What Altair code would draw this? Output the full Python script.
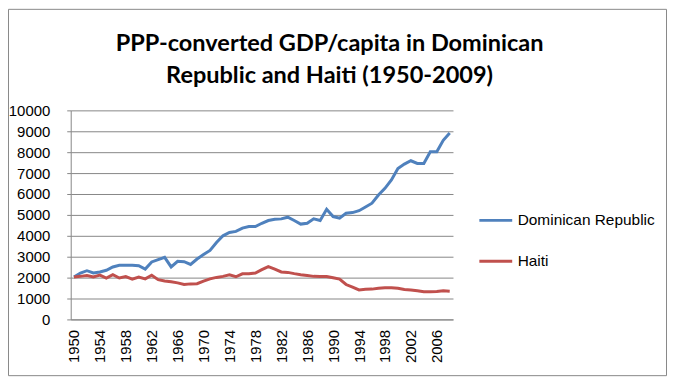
import altair as alt
import pandas as pd

years = list(range(1950, 2009))
dominican = [2030, 2220, 2330, 2220, 2270, 2350, 2510, 2590, 2590, 2590,
             2570, 2410, 2750, 2860, 2970, 2510, 2780, 2760, 2630, 2890,
             3100, 3300, 3680, 4000, 4160, 4210, 4370, 4440, 4440, 4600,
             4730, 4790, 4810, 4890, 4730, 4560, 4600, 4810, 4730, 5270,
             4920, 4840, 5080, 5110, 5200, 5380, 5560, 5950, 6270, 6670,
             7220, 7430, 7590, 7460, 7460, 8020, 8020, 8570, 8920]
haiti = [2030, 2060, 2100, 2030, 2120, 1980, 2140, 1980, 2050, 1930,
         2030, 1940, 2110, 1900, 1840, 1800, 1750, 1670, 1700, 1710,
         1830, 1940, 2010, 2060, 2130, 2040, 2180, 2180, 2220, 2380,
         2530, 2410, 2270, 2250, 2190, 2140, 2100, 2060, 2050, 2050,
         1990, 1930, 1670, 1540, 1410, 1440, 1450, 1490, 1510, 1510,
         1490, 1430, 1410, 1370, 1320, 1320, 1340, 1370, 1350]
series_names = ["Dominican Republic", "Haiti"]
series_colors = ["#4F81BD", "#C0504D"]
x_tick_years = list(range(1950, 2007, 4))
y_ticks = list(range(0, 10001, 1000))
title_lines = ["PPP-converted GDP/capita in Dominican", "Republic and Haiti (1950-2009)"]

df = pd.DataFrame({
    "year": years + years,
    "gdp": dominican + haiti,
    "country": [series_names[0]] * len(years) + [series_names[1]] * len(years),
})

GRID = "#868686"

lines = alt.Chart(df).mark_line(strokeWidth=3).encode(
    x=alt.X("year:Q",
            scale=alt.Scale(domain=[1949.5, 2008.5], nice=False, zero=False),
            axis=alt.Axis(values=x_tick_years, format="d", labelAngle=-90, grid=False,
                          ticks=False, tickSize=0, labelPadding=10, title=None,
                          domainColor=GRID, labelFont="Liberation Sans", labelFontSize=15,
                          labelColor="#000000")),
    y=alt.Y("gdp:Q",
            scale=alt.Scale(domain=[0, 10000], nice=False),
            axis=alt.Axis(values=y_ticks, format="d", title=None, grid=True, gridColor=GRID,
                          gridOpacity=1, tickColor=GRID, tickSize=4, labelPadding=17,
                          domainColor=GRID, labelFont="Liberation Sans", labelFontSize=15,
                          labelColor="#000000")),
    color=alt.Color("country:N",
                    scale=alt.Scale(domain=series_names, range=series_colors),
                    legend=alt.Legend(title=None, orient="none", legendX=409, legendY=92.5,
                                      symbolType="stroke", symbolSize=1089,
                                      symbolStrokeWidth=3, labelFontSize=15.5,
                                      labelFont="Liberation Sans", labelColor="#000000",
                                      rowPadding=14, labelOffset=4, padding=0)),
)

frame = alt.Chart(pd.DataFrame({"k": [0]})).mark_rect(
    fill=None, stroke="#888888", strokeWidth=1
).encode(
    x=alt.value(-62.5), x2=alt.value(598.5), y=alt.value(-101.5), y2=alt.value(266.5)
)

title = alt.Chart(pd.DataFrame({"k": [0]})).mark_text(
    text=title_lines, font="Lato", fontSize=23.6, fontWeight="bold", lineHeight=33,
    align="center", baseline="alphabetic", color="#000000"
).encode(x=alt.value(260), y=alt.value(-60))

chart = alt.layer(frame, title, lines).properties(
    width=384,
    height=210,
    padding={"left": 63, "top": 102, "right": 215, "bottom": 57},
    autosize=alt.AutoSizeParams(type="none"),
).configure_view(stroke=None)

chart.save("out.html", embed_options={"renderer": "svg", "actions": False})
